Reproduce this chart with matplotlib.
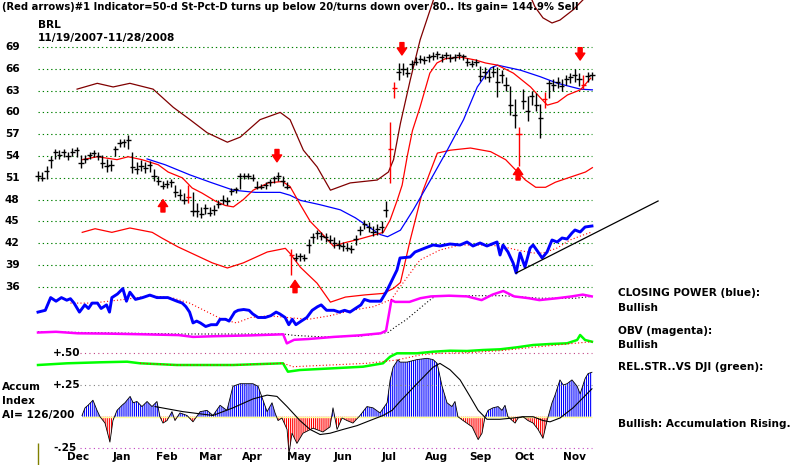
import numpy as np
import matplotlib
matplotlib.use("Agg")
import matplotlib.pyplot as plt

plt.rcParams['font.family'] = ['DejaVu Sans']
plt.rcParams['hatch.linewidth'] = 0.8

# ---- price bars, one bar every second session from 11/19/2007 ----
bar_close = [51.3, 51.0, 52.0, 53.5, 54.6, 54.2, 54.6, 54.0, 54.5, 54.8,
             53.0, 53.6, 54.2, 54.4, 54.0, 53.0, 52.6, 52.8, 55.0, 55.8,
             55.9, 56.2, 52.5, 52.2, 52.6, 52.4, 52.8, 51.2, 50.6, 49.9,
             50.2, 50.4, 49.0, 48.6, 48.0, 48.4, 46.4, 46.4, 46.0, 46.8,
             46.2, 46.6, 47.4, 48.0, 47.8, 49.2, 49.4, 51.3, 51.2, 51.3,
             51.0, 49.8, 49.8, 50.0, 50.4, 51.0, 51.2, 50.6, 49.8, 40.4,
             40.0, 40.2, 40.0, 41.8, 42.8, 43.4, 43.0, 42.8, 42.5, 42.0,
             41.8, 41.6, 41.4, 41.2, 42.6, 43.8, 44.6, 44.3, 43.6, 44.0,
             44.2, 46.6, 55.0, 63.4, 65.5, 66.0, 65.4, 66.6, 67.0, 67.4,
             67.2, 67.6, 67.8, 68.0, 67.6, 67.9, 67.5, 67.6, 67.9, 67.7,
             66.9, 66.7, 66.9, 65.0, 65.6, 64.8, 65.6, 64.2, 65.2, 63.8,
             61.0, 59.6, 57.0, 61.6, 60.2, 62.2, 61.0, 59.2, 61.8, 64.0,
             63.8, 64.2, 63.6, 64.6, 64.8, 65.2, 64.6, 63.8, 65.0, 65.2]
bar_high = [52.0, 51.8, 52.6, 54.0, 55.0, 54.8, 55.0, 54.5, 55.1, 55.2,
            54.2, 54.2, 54.6, 54.8, 54.5, 54.1, 53.6, 53.4, 55.4, 56.3,
            56.4, 56.9, 54.6, 53.2, 53.4, 53.2, 53.3, 52.2, 51.2, 50.5,
            50.7, 50.9, 50.0, 49.4, 48.9, 50.0, 49.0, 47.6, 47.0, 47.4,
            47.0, 47.2, 48.0, 48.6, 48.4, 49.6, 49.8, 51.7, 51.6, 51.6,
            51.5, 50.5, 50.2, 50.4, 50.8, 51.3, 51.8, 51.2, 50.4, 41.2,
            40.6, 40.7, 40.5, 42.6, 43.4, 43.8, 43.6, 43.4, 43.2, 42.8,
            42.4, 42.2, 42.0, 41.7, 43.2, 44.4, 45.2, 44.9, 44.4, 44.6,
            45.0, 47.8, 58.7, 64.2, 66.8, 66.8, 66.2, 67.2, 67.6, 67.9,
            67.8, 68.0, 68.3, 68.5, 68.1, 68.3, 68.0, 68.1, 68.3, 68.1,
            67.5, 67.2, 67.4, 66.4, 66.2, 66.0, 66.4, 66.2, 65.8, 64.8,
            63.6, 61.8, 58.0, 63.2, 62.2, 63.0, 62.6, 61.2, 62.8, 64.4,
            64.6, 64.8, 64.6, 65.2, 65.4, 66.0, 65.4, 65.2, 65.6, 65.6]
bar_low = [50.6, 50.5, 50.8, 52.3, 53.6, 53.6, 53.8, 53.4, 54.0, 53.9,
           52.4, 53.0, 53.6, 53.8, 53.4, 52.4, 51.8, 52.0, 54.0, 55.2,
           55.3, 55.0, 51.7, 51.5, 51.9, 51.6, 51.8, 50.6, 50.0, 49.4,
           49.6, 49.8, 48.4, 48.0, 47.4, 47.6, 45.8, 45.6, 45.5, 46.0,
           45.7, 45.9, 46.8, 47.4, 47.2, 48.7, 48.9, 49.5, 50.8, 50.8,
           50.5, 49.4, 49.4, 49.5, 49.9, 50.3, 50.6, 49.9, 49.4, 37.6,
           39.5, 39.6, 39.5, 40.6, 42.0, 42.6, 42.4, 42.2, 42.0, 41.4,
           41.2, 41.0, 40.9, 40.7, 41.8, 43.1, 44.0, 43.6, 43.0, 43.2,
           43.4, 45.6, 50.3, 62.0, 64.5, 65.2, 64.8, 66.0, 66.5, 66.8,
           66.6, 67.0, 67.2, 67.4, 67.0, 67.3, 67.0, 67.1, 67.4, 67.2,
           66.4, 66.2, 66.4, 64.3, 64.6, 64.2, 64.8, 62.1, 64.0, 63.0,
           59.6, 57.9, 52.6, 60.4, 58.8, 61.0, 60.2, 56.5, 60.6, 62.0,
           63.0, 63.4, 63.0, 63.8, 64.0, 64.2, 63.6, 63.2, 64.2, 64.4]
red_bars = [35, 59, 82, 83, 112, 118, 127]
bar_days = np.arange(0, 2 * len(bar_close), 2)

grid_levels = [69, 66, 63, 60, 57, 54, 51, 48, 45, 42, 39, 36]

# overlay lines, (trading day, value)
ma21 = [(20.6, 53.5), (27.6, 53.9), (36.8, 53.5), (42.0, 53.9), (48.4, 53.5), (56.0, 52.8),
        (60.6, 51.8), (67.2, 51.0), (71.8, 49.6), (76.4, 48.9), (82.6, 47.8), (87.2, 47.2),
        (91.0, 47.0), (95.6, 48.0), (100.2, 49.3), (107.2, 50.3), (113.8, 50.5), (117.4, 49.8),
        (122.2, 47.3), (126.8, 45.0), (131.4, 43.6), (137.6, 41.6), (143.2, 42.1), (148.8, 42.5),
        (154.8, 43.0), (160.8, 43.5), (164.0, 45.2), (167.4, 48.0), (169.6, 50.0), (172.0, 54.0),
        (174.4, 57.5), (177.9, 60.7), (182.5, 65.4), (185.8, 66.8), (189.8, 67.4), (196.8, 67.6),
        (203.8, 67.2), (208.4, 66.8), (214.0, 66.5), (221.4, 65.4), (229.4, 63.5), (234.0, 62.0),
        (237.2, 61.0), (242.0, 61.4), (246.6, 62.4), (252.6, 63.1), (257.4, 64.7)]
ma50 = [(50.8, 53.6), (59.2, 52.8), (70.8, 51.4), (80.2, 50.4), (91.0, 49.3), (101.2, 49.0),
        (112.8, 49.0), (117.4, 48.6), (122.2, 47.9), (131.4, 47.3), (140.8, 46.6), (147.8, 45.5),
        (154.8, 44.1), (159.4, 43.2), (162.8, 42.9), (168.8, 43.8), (174.8, 46.6), (182.8, 50.7),
        (190.6, 54.8), (198.2, 59.0), (204.6, 63.5), (210.8, 66.1), (214.0, 66.5), (224.8, 65.8),
        (234.0, 64.9), (242.0, 64.0), (252.6, 63.2), (258.2, 63.1)]
band_upper = [(18.2, 63.2), (27.6, 64.0), (35.0, 63.5), (42.8, 64.0), (53.6, 63.2), (63.0, 60.7),
              (70.8, 59.0), (78.8, 57.2), (88.2, 55.9), (94.2, 56.6), (103.4, 59.0), (112.8, 60.0),
              (117.4, 59.0), (123.6, 54.8), (130.0, 52.5), (136.2, 49.3), (145.4, 50.3), (158.0, 50.7),
              (163.2, 51.8), (165.6, 53.5), (168.8, 58.5), (173.4, 64.5), (178.0, 70.0), (184.2, 75.5),
              (192.0, 80.0), (210.8, 82.0), (227.0, 77.5), (231.5, 74.5), (235.2, 73.0), (239.4, 72.3),
              (243.1, 72.7), (249.2, 74.1), (253.9, 75.5), (258.0, 77.0)]
band_lower = [(20.6, 43.5), (26.6, 44.0), (34.4, 43.5), (42.8, 44.1), (53.2, 43.5), (57.8, 42.7),
              (65.2, 41.5), (73.2, 40.4), (81.2, 39.3), (88.2, 38.6), (95.6, 39.3), (106.8, 40.8),
              (115.2, 41.3), (117.4, 40.6), (122.2, 38.7), (130.0, 36.5), (136.2, 33.9), (143.2, 34.6),
              (152.4, 34.9), (160.8, 35.1), (165.6, 35.8), (168.8, 36.6), (173.4, 42.5), (179.0, 49.0),
              (186.0, 54.4), (192.0, 54.8), (201.4, 55.1), (210.8, 54.6), (217.8, 53.5), (222.4, 52.1),
              (227.0, 50.7), (231.8, 49.7), (236.4, 49.7), (241.0, 50.4), (248.0, 51.1), (255.0, 51.8),
              (258.2, 52.4)]

# red arrows: (trading day, price at the arrow tip)
arrows_up = [(58.2, 48.0), (119.7, 36.9), (223.6, 52.4)]
arrows_down = [(111.3, 53.2), (169.5, 67.9), (252.5, 67.2)]

# closing power (blue) and its moving average
closing_power = [(0, 1.79), (3.4, 1.97), (5.9, 3.24), (8.4, 2.88), (10.9, 3.24), (13.4, 2.98),
                 (15.1, 3.13), (16.8, 2.69), (19.3, 1.79), (21.8, 2.51), (23.5, 2.15), (25.2, 2.69),
                 (27.7, 2.69), (29.4, 2.15), (31.9, 2.51), (33.3, 1.79), (34.4, 3.24), (37.0, 3.6),
                 (39.5, 4.14), (41.2, 2.88), (42.8, 3.78), (45.4, 3.06), (48.7, 3.24), (52.1, 3.49),
                 (55.4, 3.24), (60.5, 3.24), (64.7, 2.88), (67.2, 2.69), (68.9, 2.33), (70.6, 1.79),
                 (72.2, 0.71), (73.9, 0.89), (75.6, 0.71), (78.1, 0.35), (80.6, 0.53), (83.2, 0.53),
                 (84.8, 1.07), (87.4, 1.07), (89.0, 0.89), (91.6, 1.79), (93.2, 1.97), (95.8, 2.05),
                 (98.3, 1.97), (100.0, 1.61), (102.5, 1.25), (105.8, 1.25), (108.4, 1.43), (110.9, 1.79),
                 (112.6, 1.61), (115.1, 1.25), (116.8, 0.53), (118.4, 1.07), (120.1, 0.53), (122.6, 0.89),
                 (125.2, 1.25), (127.7, 1.97), (130.2, 2.33), (131.9, 2.51), (134.4, 1.97), (137.8, 1.97),
                 (140.3, 1.79), (142.8, 1.97), (145.3, 1.79), (147.8, 2.15), (150.4, 2.51), (152.0, 3.06),
                 (154.6, 2.88), (157.1, 2.88), (159.6, 2.88), (162.1, 3.78), (163.8, 4.5), (167.2, 6.0),
                 (168.6, 7.2), (173.3, 7.3), (175.6, 7.8), (180.3, 8.2), (184.0, 8.5), (187.2, 8.4),
                 (191.9, 8.6), (196.6, 8.5), (199.8, 8.8), (202.6, 8.4), (205.9, 8.7), (209.1, 8.4),
                 (213.8, 8.8), (215.2, 7.5), (216.6, 8.5), (218.9, 7.8), (221.3, 6.7), (222.7, 5.7),
                 (224.5, 7.7), (226.8, 6.3), (229.2, 8.2), (230.6, 8.5), (232.9, 7.8), (234.8, 7.2),
                 (237.1, 7.8), (239.4, 9.0), (241.8, 8.8), (244.1, 9.2), (246.4, 9.1), (248.7, 9.7),
                 (250.1, 10.0), (252.5, 9.8), (254.8, 10.3), (258.0, 10.4)]
closing_power_ma = [(15.1, 2.69), (25.2, 2.69), (40.3, 3.06), (52.1, 3.42), (62.2, 3.24), (70.6, 2.69),
                    (79.0, 1.79), (85.7, 1.07), (92.4, 0.71), (99.1, 1.25), (107.5, 1.43), (115.9, 1.25),
                    (126.0, 1.07), (136.1, 1.43), (146.2, 1.97), (156.2, 2.33), (164.6, 3.06), (168.6, 4.3),
                    (177.9, 7.0), (187.2, 8.0), (196.6, 8.5), (207.3, 8.5), (215.2, 8.4), (223.1, 8.0),
                    (230.6, 7.7), (235.2, 7.7), (241.8, 8.2), (247.8, 9.0), (253.9, 9.5), (258.0, 9.8)]
cp_trend = [(222.7, 5.7), (288.8, 12.9)]

obv = [(0, 2.9), (8.4, 3.04), (18.5, 2.74), (31.9, 2.68), (48.7, 2.54), (65.5, 2.38), (72.2, 2.02),
       (82.3, 2.16), (99.1, 2.32), (114.2, 2.54), (115.9, 0.72), (119.3, 1.44), (126.0, 1.6),
       (137.8, 2.02), (149.5, 2.32), (159.6, 2.74), (162.1, 3.26), (164.6, 9.38), (166.3, 9.02),
       (173.0, 9.02), (178.1, 9.76), (183.1, 10.12), (191.5, 10.26), (199.9, 10.12), (206.6, 9.38),
       (211.7, 10.48), (216.7, 11.2), (221.8, 10.12), (228.5, 9.76), (233.5, 9.38), (241.9, 9.76),
       (248.6, 10.12), (253.7, 10.48), (257.9, 10.12)]
obv_ma = [(0, 3.04), (65.5, 2.6), (114.2, 2.6), (119.3, 2.32), (132.7, 2.02), (149.5, 2.16),
          (163.0, 2.9), (166.3, 3.98), (171.4, 5.42), (176.4, 7.22), (181.4, 9.02), (184.8, 10.12),
          (199.9, 10.26), (216.7, 10.26), (233.5, 9.76), (250.3, 9.76), (257.9, 10.12)]

rel_str = [(0, 3.0), (13.5, 3.34), (28.9, 3.54), (41.5, 3.66), (47.5, 3.34), (64.7, 3.0), (90.8, 3.0),
           (114.1, 3.34), (116.4, 1.66), (122.0, 2.0), (137.4, 2.34), (151.4, 2.66), (160.7, 3.34),
           (164.0, 4.66), (167.2, 5.34), (176.5, 5.34), (184.0, 5.66), (191.9, 5.86), (199.8, 5.8),
           (207.3, 6.0), (215.2, 6.14), (223.1, 6.54), (230.6, 7.0), (238.5, 7.2), (246.4, 7.34),
           (251.1, 8.0), (252.5, 9.0), (254.8, 8.0), (258.0, 7.66)]
rel_str_ma = [(47.5, 3.34), (64.7, 3.0), (90.8, 3.0), (114.1, 3.34), (118.8, 2.66), (153.2, 3.34),
              (167.2, 4.0), (177.9, 5.0), (187.2, 5.34), (199.8, 5.46), (215.2, 5.86), (230.6, 6.54),
              (246.4, 7.2), (258.0, 7.66)]

accum = [(20.5, 0.01), (21.9, 0.07), (23.3, 0.09), (25.6, 0.13), (27.5, 0.05), (28.9, 0.0),
         (31.2, -0.05), (33.5, -0.20), (34.9, -0.03), (36.8, 0.05), (39.1, 0.09), (40.5, 0.11),
         (42.9, 0.16), (44.3, 0.11), (46.1, 0.12), (48.4, 0.08), (50.8, 0.12), (53.1, 0.08),
         (55.4, 0.12), (56.8, 0.0), (58.2, -0.05), (60.1, -0.03), (62.4, 0.04), (63.8, -0.03),
         (66.1, 0.03), (69.4, 0.01), (72.2, -0.04), (75.5, 0.04), (78.7, 0.05), (81.5, 0.01),
         (84.8, 0.09), (88.0, 0.05), (90.8, 0.24), (94.1, 0.26), (97.3, 0.26), (100.1, 0.26),
         (102.5, 0.24), (104.8, 0.13), (106.7, 0.04), (109.0, 0.11), (110.4, 0.03), (111.8, -0.03),
         (113.6, -0.01), (116.0, -0.10), (116.9, -0.29), (118.3, -0.13), (120.6, -0.21), (123.4, -0.13),
         (128.1, -0.09), (132.7, -0.12), (136.0, -0.08), (137.4, 0.07), (139.3, -0.10), (141.6, -0.01),
         (143.9, -0.03), (146.7, -0.05), (150.0, 0.01), (153.2, 0.08), (156.0, 0.07), (159.3, 0.03),
         (162.6, 0.11), (164.0, 0.29), (165.4, 0.39), (167.7, 0.45), (168.6, 0.43), (171.9, 0.43),
         (176.5, 0.45), (181.2, 0.46), (184.0, 0.45), (185.9, 0.42), (188.2, 0.24), (190.5, 0.11),
         (192.8, 0.08), (194.2, 0.12), (195.6, 0.0), (198.0, -0.03), (202.2, -0.08), (205.0, -0.18),
         (206.8, -0.13), (208.2, 0.0), (209.6, 0.05), (211.9, 0.07), (214.3, 0.08), (216.1, 0.05),
         (217.5, 0.09), (218.9, 0.0), (222.2, -0.05), (223.6, -0.01), (225.9, 0.0), (228.2, -0.03),
         (230.6, -0.05), (232.9, -0.10), (235.2, -0.17), (237.1, -0.03), (239.4, 0.11), (240.8, 0.17),
         (243.1, 0.29), (244.6, 0.25), (246.4, 0.26), (248.7, 0.29), (251.1, 0.24), (252.5, 0.18),
         (254.8, 0.30), (256.2, 0.34), (258.0, 0.35)]
accum_ma = [(54.5, 0.08), (67.5, 0.04), (81.5, 0.01), (90.8, 0.07), (100.1, 0.14), (106.7, 0.17),
            (111.3, 0.16), (116.0, 0.08), (122.0, -0.03), (126.7, -0.10), (131.4, -0.14), (136.0, -0.13),
            (142.1, -0.10), (148.6, -0.07), (154.6, -0.03), (160.7, 0.01), (164.9, 0.05), (168.6, 0.12),
            (176.5, 0.26), (184.0, 0.39), (187.2, 0.42), (191.9, 0.37), (196.6, 0.29), (201.2, 0.16),
            (205.0, 0.05), (209.1, -0.02), (215.2, -0.02), (221.3, -0.01), (225.9, 0.0), (230.6, 0.0),
            (235.2, -0.03), (238.5, -0.04), (243.1, -0.01), (249.2, 0.07), (258.0, 0.22)]
accum_levels = [0.50, 0.25, -0.25]
accum_labels = ['+.50', '+.25', '-.25']

months = ['Dec', 'Jan', 'Feb', 'Mar', 'Apr', 'May', 'Jun', 'Jul', 'Aug', 'Sep', 'Oct', 'Nov']
month_days = [18.6, 39.1, 60.1, 80.1, 99.7, 121.6, 142.1, 163.5, 185.4, 205.9, 226.4, 249.7]

# ---- figure: several transparent axes stacked on the same canvas ----
W, H = 800, 465
fig = plt.figure(figsize=(8, 4.65), dpi=100, facecolor='white')
XLIM = (-17.7, 354.9)


def layer(ylim):
    a = fig.add_axes([0, 0, 1, 1], facecolor='none')
    a.set_xlim(*XLIM)
    a.set_ylim(*ylim)
    a.axis('off')
    return a


def line(a, pts, **kw):
    xs, ys = zip(*pts)
    a.plot(xs, ys, **kw)


bold = dict(fontsize=7.6, fontweight='bold', color='black')


def ftext(x, y, s, **kw):
    # x, y in pixels from the top-left corner
    fig.text(x / W, 1 - y / H, s, va='center', ha='left', **{**bold, **kw})


ax_ai = layer((-0.380, 3.281))
ax_rs = layer((-17.0, 76.0))
ax_obv = layer((-23.6, 69.4))
ax_p = layer((11.5, 75.46))
ax_cp = layer((-13.5, 33.0))

# price panel
ax_p.hlines(grid_levels, 0, bar_days[-1], colors='#008000', linewidth=0.8, linestyles=(0, (1.2, 2.6)))
for lv in grid_levels:
    ax_p.text(-15.4, lv, str(lv), ha='left', va='center', **bold)

line(ax_p, band_upper, color='#800000', lw=0.9)
line(ax_p, band_lower, color='#ff0000', lw=0.9)
line(ax_p, ma50, color='#0000ff', lw=0.9)
line(ax_p, ma21, color='#ff0000', lw=0.9)

cols = ['#ff0000' if i in red_bars else 'black' for i in range(len(bar_close))]
ax_p.vlines(bar_days, bar_low, bar_high, colors=cols, lw=1.0)
ax_p.hlines(bar_close, bar_days - 1.2, bar_days + 1.2, colors=cols, lw=1.0)

arrow_len = 1.7
astyle = dict(arrowstyle='simple,head_length=0.55,head_width=0.75,tail_width=0.32',
              color='#ff0000', shrinkA=0, shrinkB=0, mutation_scale=9)
for d, tip in arrows_up:
    ax_p.annotate('', xy=(d, tip), xytext=(d, tip - arrow_len), arrowprops=astyle)
for d, tip in arrows_down:
    ax_p.annotate('', xy=(d, tip), xytext=(d, tip + arrow_len), arrowprops=astyle)

# closing power
line(ax_cp, closing_power_ma, color='#ff0000', lw=0.8, linestyle=(0, (1, 2)))
line(ax_cp, closing_power, color='#0000ff', lw=2.1)
line(ax_cp, cp_trend, color='black', lw=0.9)

# OBV
line(ax_obv, obv_ma, color='black', lw=0.8, linestyle=(0, (1, 2)))
line(ax_obv, obv, color='#ff00ff', lw=1.8)

# relative strength
line(ax_rs, rel_str, color='#00ff00', lw=1.8)
line(ax_rs, rel_str_ma, color='#ff0000', lw=0.8, linestyle=(0, (1, 2)))

# accumulation index
ai_d = np.array([p[0] for p in accum])
ai_v = np.array([p[1] for p in accum])
ax_ai.hlines(0, ai_d[0], 258, colors='#ffff99', lw=1)
ax_ai.hlines(accum_levels, 19.6, 258, colors=['#c04080', '#808080', '#c040c0'],
             lw=0.8, linestyles=(0, (1, 3)))
ax_ai.fill_between(ai_d, ai_v, 0, where=ai_v >= 0, interpolate=True,
                   facecolor='none', edgecolor='#0000ff', hatch='||||||||', linewidth=0)
ax_ai.fill_between(ai_d, ai_v, 0, where=ai_v <= 0, interpolate=True,
                   facecolor='none', edgecolor='#ff0000', hatch='||||||||', linewidth=0)
ax_ai.plot(ai_d, ai_v, color='black', lw=0.6)
line(ax_ai, accum_ma, color='black', lw=0.8)
ax_ai.vlines(0, -0.38, -0.21, colors='#808000', lw=1)
for lv, lab in zip(accum_levels, accum_labels):
    ax_ai.text(7.0, lv, lab, ha='left', va='center', **bold)
for m, d in zip(months, month_days):
    ax_ai.text(d, -0.317, m, ha='center', va='center', **bold)

# header and side notes
ftext(2, 7, '(Red arrows)#1 Indicator=50-d St-Pct-D turns up below 20/turns down over 80.. Its gain= 144.9% Sell',
      fontsize=7.2)
ftext(38, 25, 'BRL')
ftext(38, 38, '11/19/2007-11/28/2008')
ftext(2, 387, 'Accum')
ftext(2, 401, 'Index')
ftext(2, 415, 'AI= 126/200')
ftext(618, 293, 'CLOSING POWER (blue):')
ftext(618, 308, 'Bullish')
ftext(618, 331, 'OBV (magenta):')
ftext(618, 345, 'Bullish')
ftext(618, 367, 'REL.STR..VS DJI (green):')
ftext(618, 424, 'Bullish: Accumulation Rising.')

fig.savefig('out.png', dpi=100, facecolor='white')
